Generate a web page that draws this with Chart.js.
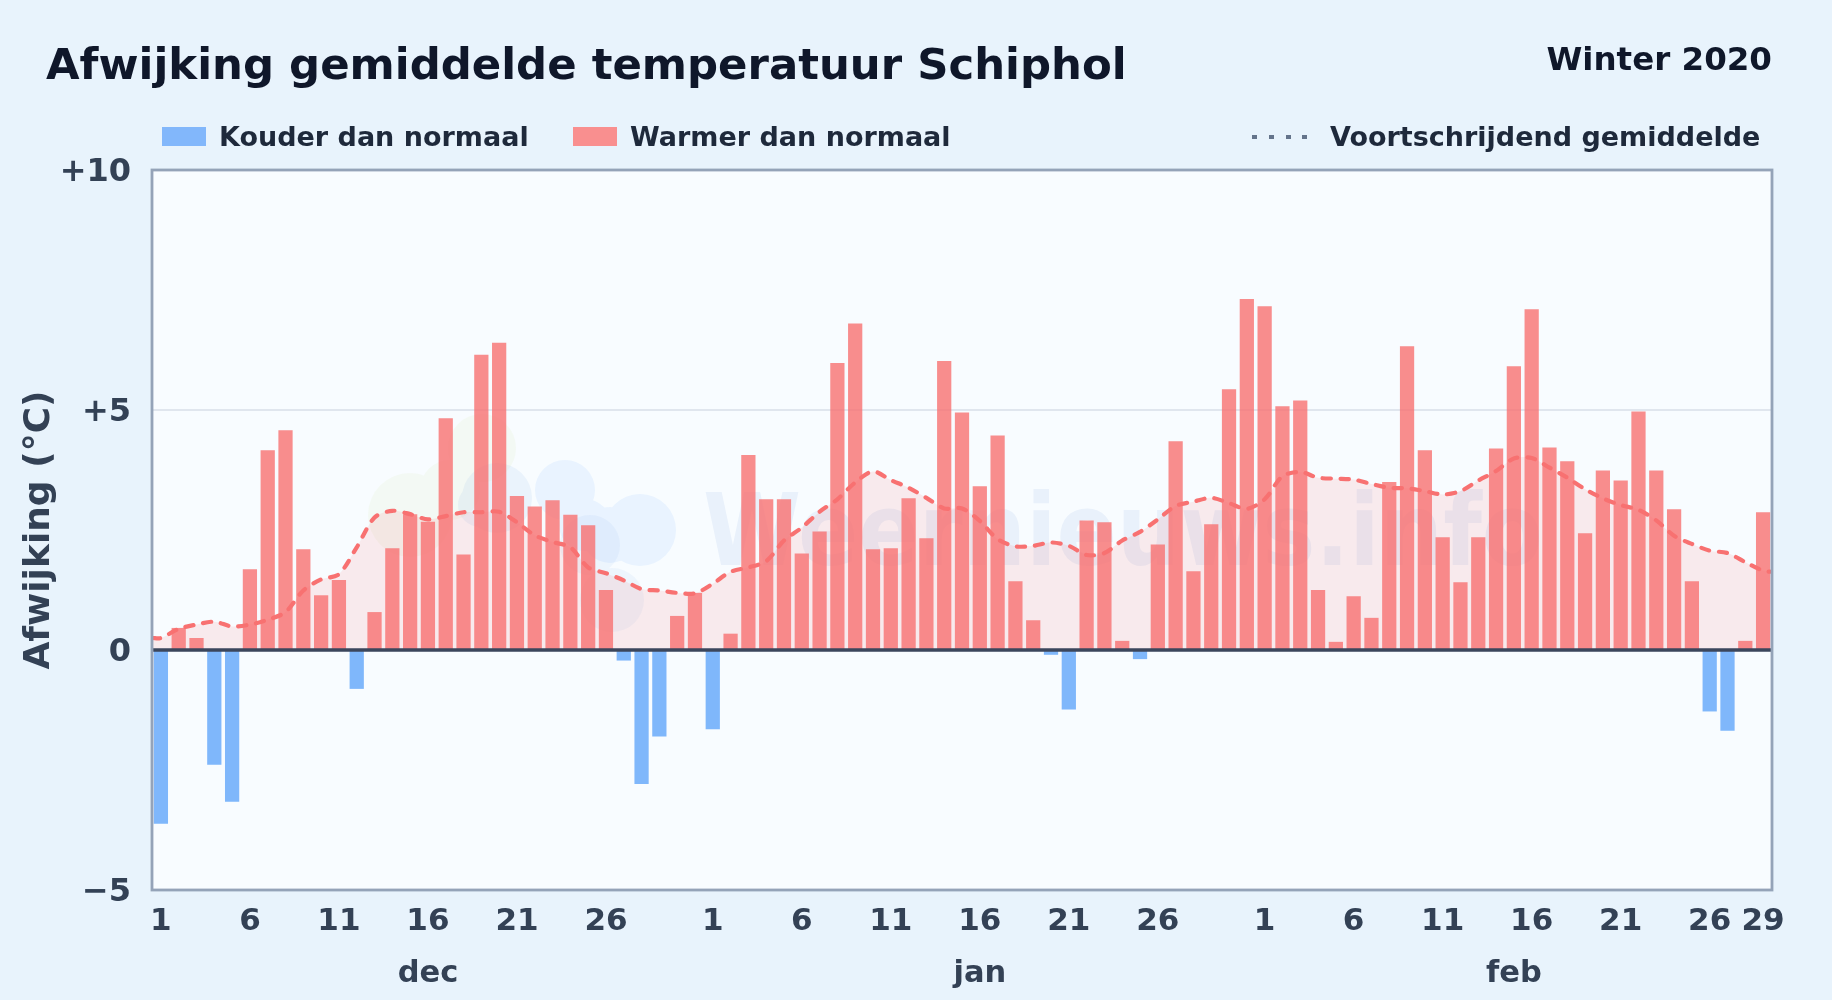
<!DOCTYPE html>
<html lang="nl">
<head>
<meta charset="utf-8">
<title>Afwijking gemiddelde temperatuur Schiphol</title>
<script src="https://cdn.jsdelivr.net/npm/chart.js@4/dist/chart.umd.min.js"></script>
<style>
  html, body { margin: 0; padding: 0; width: 1832px; height: 1000px; overflow: hidden; background: #e8f3fc; }
  body { position: relative; font-family: "DejaVu Sans", sans-serif; font-weight: bold; }
  canvas { position: absolute; left: 0; top: 0; }
  .label { position: absolute; white-space: nowrap; line-height: 1; }
  #title { left: 46px; top: 43px; font-size: 43.4px; color: #0f172a; }
  #season { right: 60px; top: 43px; font-size: 32.5px; color: #0f172a; }
  .legend { top: 123px; font-size: 27px; color: #1e293b; }
  .swatch { position: absolute; top: 127px; width: 44px; height: 19px; }
  #dots { position: absolute; left: 1252px; top: 135px; width: 56px; height: 4px;
    background: repeating-linear-gradient(90deg, #64748b 0, #64748b 5px, transparent 5px, transparent 16.8px); }
</style>
</head>
<body>
<canvas id="myChart" width="1832" height="1000"></canvas>
<div class="label" id="title">Afwijking gemiddelde temperatuur Schiphol</div>
<div class="label" id="season">Winter 2020</div>
<div class="swatch" style="left:162px;background:#82b7fb"></div>
<div class="label legend" style="left:219px">Kouder dan normaal</div>
<div class="swatch" style="left:573px;background:#f98f8f"></div>
<div class="label legend" style="left:630px">Warmer dan normaal</div>
<div id="dots"></div>
<div class="label legend" style="left:1330px">Voortschrijdend gemiddelde</div>
<script>
// daily deviation from normal, 1 dec to 29 feb
var decValues = [
  -3.62, 0.46, 0.25, -2.39, -3.16, 1.68, 4.16, 4.58, 2.1, 1.14, 1.46, -0.81, 0.79, 2.12, 2.83, 2.67,
  4.83, 1.99, 6.15, 6.4, 3.21, 2.99, 3.12, 2.82, 2.6, 1.25, -0.22, -2.79, -1.8, 0.71, 1.19,
];
var janValues = [
  -1.65, 0.34, 4.06, 3.14, 3.14, 2.01, 2.47, 5.98, 6.8, 2.1, 2.12, 3.16, 2.33, 6.02, 4.95, 3.41,
  4.47, 1.43, 0.62, -0.1, -1.24, 2.7, 2.66, 0.19, -0.19, 2.2, 4.35, 1.64, 2.62, 5.43, 7.31,
];
var febValues = [
  7.16, 5.08, 5.2, 1.25, 0.17, 1.12, 0.67, 3.5, 6.33, 4.16, 2.35, 1.41, 2.35, 4.2, 5.91, 7.1,
  4.22, 3.93, 2.43, 3.74, 3.53, 4.97, 3.74, 2.93, 1.43, -1.28, -1.68, 0.19, 2.87,
];

// moving average, same days, plus the value where the line meets each plot edge
var avgDec = [
  0.25, 0.44, 0.53, 0.59, 0.49, 0.53, 0.63, 0.79, 1.24, 1.47, 1.58, 2.14, 2.76, 2.9, 2.83, 2.72,
  2.79, 2.87, 2.87, 2.88, 2.66, 2.39, 2.25, 2.14, 1.72, 1.6, 1.45, 1.27, 1.24, 1.19, 1.18,
];
var avgJan = [
  1.38, 1.63, 1.72, 1.85, 2.28, 2.55, 2.88, 3.14, 3.49, 3.72, 3.54, 3.38, 3.17, 2.95, 2.95, 2.69,
  2.31, 2.16, 2.17, 2.24, 2.17, 1.98, 2.02, 2.28, 2.46, 2.72, 3.0, 3.09, 3.17, 3.06, 2.94,
];
var avgFeb = [
  3.14, 3.62, 3.71, 3.59, 3.57, 3.55, 3.46, 3.38, 3.37, 3.31, 3.24, 3.31, 3.53, 3.73, 3.99, 4.0,
  3.8, 3.59, 3.35, 3.16, 3.02, 2.92, 2.7, 2.38, 2.21, 2.07, 2.02, 1.83, 1.65,
];
var avgLeftEdge = 0.25;
var avgRightEdge = 1.63;

// tick labels, positions are day numbers counted from 1 dec
var dayTicks = [1, 6, 11, 16, 21, 26, 32, 37, 42, 47, 52, 57, 63, 68, 73, 78, 83, 88, 91];
var dayLabels = ['1', '6', '11', '16', '21', '26', '1', '6', '11', '16', '21', '26', '1', '6', '11', '16', '21', '26', '29'];
var monthTicks = [16, 47, 77];
var monthLabels = ['dec', 'jan', 'feb'];
var yTicks = [-5, 0, 5, 10];
var yLabels = ['\u22125', '0', '+5', '+10'];

var watermark = 'Weernieuws.info';

var dayValues = decValues.concat(janValues, febValues);
var avgValues = avgDec.concat(avgJan, avgFeb);

// one dataset per legend entry, the other sign is left empty
var warmPoints = dayValues.map(function (v, i) {
  return { x: i + 1, y: v >= 0 ? v : null };
});
var coldPoints = dayValues.map(function (v, i) {
  return { x: i + 1, y: v < 0 ? v : null };
});
var avgPoints = avgValues.map(function (v, i) {
  return { x: i + 1, y: v };
});
avgPoints.unshift({ x: 0.5, y: avgLeftEdge });
avgPoints.push({ x: 91.5, y: avgRightEdge });

// each logo part is filled as one shape so overlapping circles show no rims
function fillBlob(ctx, circles, color) {
  ctx.beginPath();
  circles.forEach(function (c) {
    ctx.moveTo(c[0] + c[2], c[1]);
    ctx.arc(c[0], c[1], c[2], 0, Math.PI * 2);
  });
  ctx.fillStyle = color;
  ctx.fill();
}

// plot background and faint logo under the bars, frame and zero line on top
var plotDecor = {
  id: 'plotDecor',
  beforeDraw: function (chart) {
    var ctx = chart.ctx;
    var a = chart.chartArea;
    ctx.save();
    ctx.fillStyle = '#f8fcff';
    ctx.fillRect(a.left, a.top, a.right - a.left, a.bottom - a.top);

    fillBlob(ctx, [[482, 448, 34], [450, 490, 30], [410, 515, 42]], 'rgba(205,225,150,0.10)');
    fillBlob(ctx, [[565, 490, 30], [585, 525, 26], [610, 535, 28], [640, 530, 36]], 'rgba(147,197,253,0.15)');
    fillBlob(ctx, [[497, 498, 35], [480, 505, 22]], 'rgba(100,150,220,0.09)');
    fillBlob(ctx, [[590, 545, 30], [612, 600, 32]], 'rgba(100,150,220,0.07)');

    ctx.font = 'bold 100px "DejaVu Sans"';
    ctx.fillStyle = 'rgba(70,120,200,0.08)';
    ctx.textAlign = 'left';
    ctx.textBaseline = 'alphabetic';
    ctx.fillText(watermark, 703, 565, 840);
    ctx.restore();
  },
  afterDatasetsDraw: function (chart) {
    var ctx = chart.ctx;
    var a = chart.chartArea;
    var zero = chart.scales.y.getPixelForValue(0);
    ctx.save();
    ctx.strokeStyle = '#3b465c';
    ctx.lineWidth = 3.5;
    ctx.beginPath();
    ctx.moveTo(a.left, zero);
    ctx.lineTo(a.right, zero);
    ctx.stroke();
    ctx.strokeStyle = '#94a3b8';
    ctx.lineWidth = 2.8;
    ctx.strokeRect(a.left, a.top, a.right - a.left, a.bottom - a.top);
    ctx.restore();
  },
};

window.onload = function () {
  var canvas = document.getElementById('myChart');
  var ctx = canvas.getContext('2d');
  var myChart = new Chart(ctx, {
    type: 'bar',
    plugins: [plotDecor],
    data: {
      datasets: [
        {
          type: 'line',
          label: 'Voortschrijdend gemiddelde',
          data: avgPoints,
          order: 0,
          borderColor: '#f87171',
          borderWidth: 4.2,
          borderDash: [8, 10],
          borderCapStyle: 'round',
          tension: 0.3,
          pointRadius: 0,
          fill: { target: { value: 0 } },
          backgroundColor: 'rgba(248,113,113,0.13)',
        },
        {
          label: 'Warmer dan normaal',
          data: warmPoints,
          order: 1,
          backgroundColor: 'rgba(248,113,113,0.8)',
          barPercentage: 0.8,
          categoryPercentage: 1,
          grouped: false,
        },
        {
          label: 'Kouder dan normaal',
          data: coldPoints,
          order: 2,
          backgroundColor: 'rgba(96,165,250,0.8)',
          barPercentage: 0.8,
          categoryPercentage: 1,
          grouped: false,
        },
      ],
    },
    options: {
      responsive: false,
      animation: false,
      layout: { padding: { top: 170, right: 60, left: 0, bottom: 0 } },
      plugins: {
        legend: { display: false },
        tooltip: { enabled: false },
        filler: { drawTime: 'beforeDatasetsDraw' },
      },
      scales: {
        x: {
          type: 'linear',
          offset: false,
          min: 0.5,
          max: 91.5,
          grid: { display: false },
          border: { display: false },
          afterBuildTicks: function (scale) {
            scale.ticks = dayTicks.map(function (d) {
              return { value: d };
            });
          },
          afterFit: function (scale) {
            scale.height = 55;
          },
          ticks: {
            autoSkip: false,
            maxRotation: 0,
            padding: 5,
            color: '#334155',
            font: { family: '"DejaVu Sans"', size: 31, weight: 'bold' },
            callback: function (value, index) {
              return dayLabels[index];
            },
          },
        },
        xMonth: {
          type: 'linear',
          position: 'bottom',
          offset: false,
          weight: 1,
          min: 0.5,
          max: 91.5,
          grid: { display: false },
          border: { display: false },
          afterBuildTicks: function (scale) {
            scale.ticks = monthTicks.map(function (d) {
              return { value: d };
            });
          },
          afterFit: function (scale) {
            scale.height = 55;
          },
          ticks: {
            autoSkip: false,
            maxRotation: 0,
            padding: 3,
            color: '#334155',
            font: { family: '"DejaVu Sans"', size: 30.5, weight: 'bold' },
            callback: function (value, index) {
              return monthLabels[index];
            },
          },
        },
        y: {
          min: -5,
          max: 10,
          afterBuildTicks: function (scale) {
            scale.ticks = yTicks.map(function (v) {
              return { value: v };
            });
          },
          afterFit: function (scale) {
            scale.width = 152;
          },
          grid: { color: '#e0e6ee', lineWidth: 2, drawTicks: false },
          border: { display: false },
          title: {
            display: true,
            text: 'Afwijking (\u00b0C)',
            color: '#334155',
            font: { family: '"DejaVu Sans"', size: 36, weight: 'bold' },
            padding: { top: 18, bottom: 0 },
          },
          ticks: {
            padding: 21,
            labelOffset: 2.5,
            color: '#334155',
            font: { family: '"DejaVu Sans"', size: 32, weight: 'bold' },
            callback: function (value, index) {
              return yLabels[index];
            },
          },
        },
      },
    },
  });
};
</script>
</body>
</html>
